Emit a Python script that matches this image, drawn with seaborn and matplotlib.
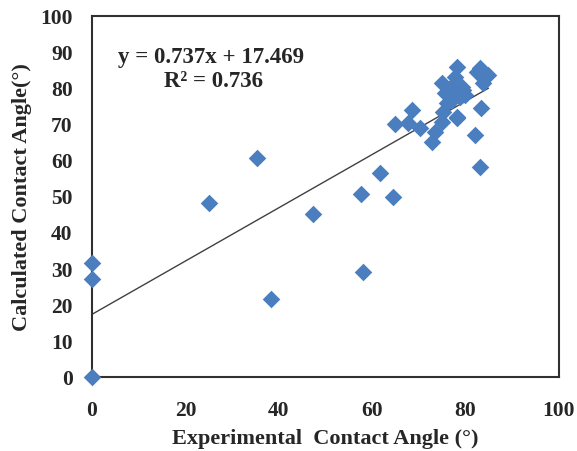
import matplotlib
matplotlib.use("Agg")
import matplotlib.pyplot as plt
import seaborn as sns
import numpy as np
import pandas as pd

exp_angle = [0, 0, 0, 25.1, 35.3, 38.3, 47.3, 57.5, 58.1, 61.7, 64.5, 64.8, 67.7, 68.5,
             70.2, 72.7, 73.4, 74.9, 75.2, 74.9, 75.6, 76.0, 76.7, 77.0, 77.7, 78.1, 78.1,
             78.4, 79.2, 79.9, 78.1, 82.0, 82.4, 83.1, 83.1, 83.4, 83.7, 84.9, 77.5, 78.8,
             79.5, 76.5]
calc_angle = [31.6, 27.2, 0, 48.4, 60.6, 21.7, 45.2, 50.8, 29.3, 56.7, 49.8, 70.1, 70.3, 74.0,
              68.9, 65.2, 68.0, 70.8, 73.5, 81.4, 78.6, 75.8, 80.0, 76.8, 83.2, 86.0, 71.7,
              79.1, 80.4, 78.1, 72.0, 67.1, 84.6, 85.5, 58.3, 74.5, 81.4, 83.7, 78.0, 77.5,
              79.5, 78.0]
slope = 0.737
intercept = 17.469
r2 = 0.736
x_ticks = [0, 20, 40, 60, 80, 100]
y_ticks = [0, 10, 20, 30, 40, 50, 60, 70, 80, 90, 100]

df = pd.DataFrame({"exp": exp_angle, "calc": calc_angle})

sns.set_style("white")
plt.rcParams['font.family'] = ['Liberation Serif', 'DejaVu Serif']

fig = plt.figure(figsize=(5.77, 4.51), dpi=100)
ax = fig.add_axes([0.1594, 0.163, 0.8094, 0.8015])

sns.scatterplot(data=df, x="exp", y="calc", marker="D", s=80, color="#4A7EBF",
                edgecolor="#4A7EBF", linewidth=0, ax=ax, zorder=3, clip_on=False)

xl = np.array([0, max(exp_angle)])
sns.lineplot(x=xl, y=slope * xl + intercept, color="#404040", linewidth=1.0, ax=ax, zorder=2)

ax.set_xlim(0, 100)
ax.set_ylim(0, 100)
ax.set_xticks(x_ticks)
ax.set_yticks(y_ticks)
ax.set_xticklabels([str(t) for t in x_ticks], fontsize=15.5, fontweight="bold")
ax.set_yticklabels([str(t) for t in y_ticks], fontsize=15.5, fontweight="bold")
ax.tick_params(axis="x", length=0, pad=17)
ax.tick_params(axis="y", length=0, pad=14)
ax.set_xlabel("Experimental  Contact Angle (°)", fontsize=16, fontweight="bold", labelpad=6)
ax.set_ylabel("Calculated Contact Angle(°)", fontsize=16, fontweight="bold", labelpad=6)
for sp in ax.spines.values():
    sp.set_color("#303030")
    sp.set_linewidth(1.5)

ax.text(25.5, 88.5, f"y = {slope}x + {intercept}", fontsize=16.5, fontweight="bold",
        ha="center", va="center")
ax.text(26.0, 82.0, f"R² = {r2}", fontsize=16.5, fontweight="bold", ha="center", va="center")

fig.savefig("out.png", dpi=100)
